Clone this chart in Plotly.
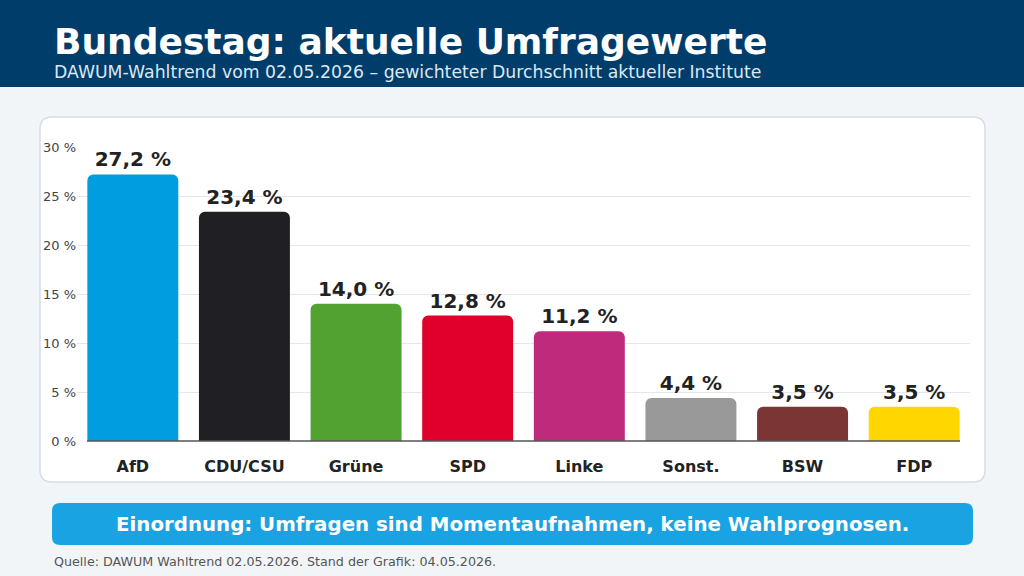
import plotly.graph_objects as go

parteien = ["AfD", "CDU/CSU", "Grüne", "SPD", "Linke", "Sonst.", "BSW", "FDP"]
werte = [27.2, 23.4, 14.0, 12.8, 11.2, 4.4, 3.5, 3.5]
farben = ["#009ee0", "#1f1f24", "#52a232", "#e0002b", "#be2a7c", "#999999", "#7b3535", "#ffd600"]
y_ticks = [0, 5, 10, 15, 20, 25, 30]

W, H = 1024, 576
L, R, T, B = 77, 970, 147, 441


def px(x):
    return (x - L) / (R - L)


def py(y):
    return (B - y) / (B - T)


fig = go.Figure()
fig.add_trace(go.Bar(
    x=parteien, y=werte, marker=dict(color=farben, line_width=0),
    width=0.815,
    text=[f"{v:.1f} %".replace(".", ",") for v in werte],
    textposition="outside", cliponaxis=False,
    textfont=dict(family="DejaVu Sans", size=20, color="#222222", weight="bold"),
))

shapes = [
    dict(type="rect", xref="paper", yref="paper", x0=px(0), x1=px(W), y0=py(0), y1=py(H),
         fillcolor="#f2f5f8", line_width=0, layer="below"),
    dict(type="rect", xref="paper", yref="paper", x0=px(0), x1=px(W), y0=py(0), y1=py(87),
         fillcolor="#003d6b", line_width=0, layer="below"),
    dict(type="path", xref="paper", yref="paper", layer="below",
         path=f"M {px(52)},{py(117)} L {px(973)},{py(117)} Q {px(985)},{py(117)} {px(985)},{py(129)} "
              f"L {px(985)},{py(470)} Q {px(985)},{py(482)} {px(973)},{py(482)} L {px(52)},{py(482)} "
              f"Q {px(40)},{py(482)} {px(40)},{py(470)} L {px(40)},{py(129)} Q {px(40)},{py(117)} {px(52)},{py(117)} Z",
         fillcolor="white", line=dict(color="#d5dde6", width=1.5)),
    dict(type="path", xref="paper", yref="paper", layer="below",
         path=f"M {px(60)},{py(503)} L {px(965)},{py(503)} Q {px(973)},{py(503)} {px(973)},{py(511)} "
              f"L {px(973)},{py(537)} Q {px(973)},{py(545)} {px(965)},{py(545)} L {px(60)},{py(545)} "
              f"Q {px(52)},{py(545)} {px(52)},{py(537)} L {px(52)},{py(511)} Q {px(52)},{py(503)} {px(60)},{py(503)} Z",
         fillcolor="#1aa3e3", line_width=0),
    dict(type="line", xref="paper", yref="paper", x0=px(87), x1=px(960), y0=0, y1=0,
         line=dict(color="#555555", width=1.5)),
]

annotations = [
    dict(text="<b>Bundestag: aktuelle Umfragewerte</b>", x=px(52), y=py(42), xanchor="left", yanchor="middle",
         font=dict(family="DejaVu Sans", size=36, color="white")),
    dict(text="DAWUM-Wahltrend vom 02.05.2026 – gewichteter Durchschnitt aktueller Institute",
         x=px(52), y=py(72), xanchor="left", yanchor="middle",
         font=dict(family="DejaVu Sans", size=17.3, color="#dce8f2")),
    dict(text="<b>Einordnung: Umfragen sind Momentaufnahmen, keine Wahlprognosen.</b>",
         x=px(512), y=py(524), xanchor="center", yanchor="middle",
         font=dict(family="DejaVu Sans", size=19.8, color="white")),
    dict(text="Quelle: DAWUM Wahltrend 02.05.2026. Stand der Grafik: 04.05.2026.",
         x=px(52), y=py(561), xanchor="left", yanchor="middle",
         font=dict(family="DejaVu Sans", size=12.7, color="#555555")),
]
for a in annotations:
    a.update(xref="paper", yref="paper", showarrow=False)

fig.update_layout(
    width=W, height=H, margin=dict(l=L, r=W - R, t=T, b=H - B),
    paper_bgcolor="#f2f5f8", plot_bgcolor="white", showlegend=False,
    shapes=shapes, annotations=annotations, barcornerradius=6,
    font=dict(family="DejaVu Sans"),
)
fig.update_xaxes(showgrid=False, ticks="", showline=False, ticklabelstandoff=14,
                 tickfont=dict(size=16, color="#222222", weight="bold"))
fig.update_yaxes(range=[0, 30], tickvals=y_ticks, ticktext=[f"{t} %" for t in y_ticks],
                 gridcolor="#e3e7ec", zeroline=False, ticklabelstandoff=0,
                 tickfont=dict(size=13, color="#444444"))

fig.write_html("out.html", config={"displayModeBar": False},
               post_script="document.body.style.margin='0';")
